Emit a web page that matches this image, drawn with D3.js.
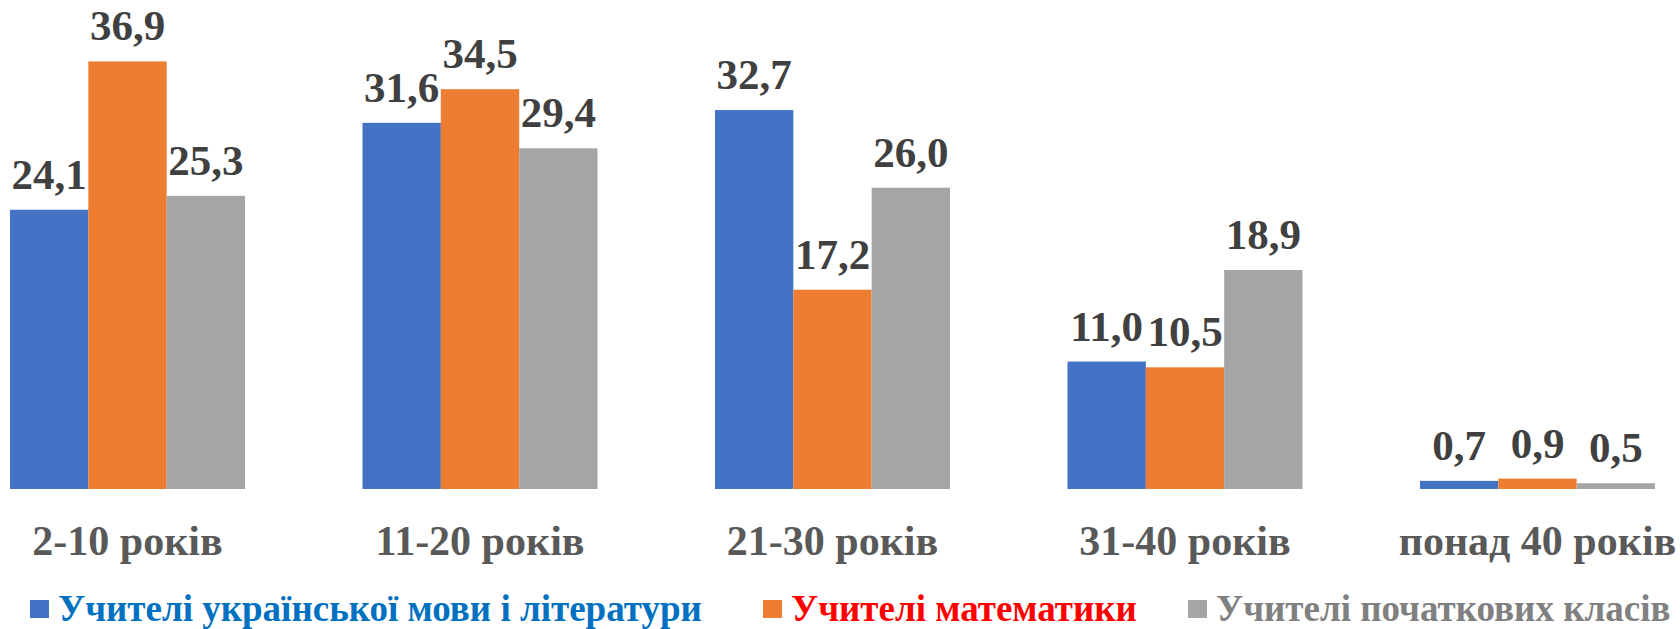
<!DOCTYPE html>
<html>
<head>
<meta charset="utf-8">
<script src="https://cdn.jsdelivr.net/npm/d3@7"></script>
<style>
  html, body { margin: 0; padding: 0; background: #fff; }
  svg { display: block; }
  text { font-family: "Liberation Serif", "Times New Roman", serif; font-weight: bold; }
</style>
</head>
<body>
<svg id="chart" width="1680" height="629"></svg>
<script>
const categories = ["2-10 років", "11-20 років", "21-30 років", "31-40 років", "понад 40 років"];
const seriesNames = ["Учителі української мови і літератури", "Учителі математики", "Учителі початкових класів"];
const ukrValues = [24.1, 31.6, 32.7, 11.0, 0.7];
const mathValues = [36.9, 34.5, 17.2, 10.5, 0.9];
const primaryValues = [25.3, 29.4, 26.0, 18.9, 0.5];

const barColors = ["#4472C4", "#ED7D31", "#A5A5A5"];
const legendColors = ["#0070C0", "#FF0000", "#808080"];

const series = [ukrValues, mathValues, primaryValues];

const svg = d3.select("#chart");
const baseY = 489;

// the plot is a bit wider than the picture, first/last gaps are cut off
const x = d3.scaleBand()
    .domain(categories)
    .range([-48.75, 1713.75])
    .paddingInner(1 / 3)
    .paddingOuter(1 / 6);

const xSub = d3.scaleBand()
    .domain(d3.range(series.length))
    .range([0, x.bandwidth()]);

const y = d3.scaleLinear()
    .domain([0, 42.2])
    .range([baseY, 0]);

const fmt = v => v.toFixed(1).replace(".", ",");

const groups = svg.selectAll("g.cat")
    .data(categories)
    .join("g")
    .attr("class", "cat")
    .attr("transform", d => `translate(${x(d)},0)`);

groups.selectAll("rect")
    .data((d, i) => series.map((s, k) => ({ k: k, v: s[i] })))
    .join("rect")
    .attr("x", d => xSub(d.k))
    .attr("width", xSub.bandwidth())
    .attr("y", d => y(d.v))
    .attr("height", d => baseY - y(d.v))
    .attr("fill", d => barColors[d.k]);

groups.selectAll("text.val")
    .data((d, i) => series.map((s, k) => ({ k: k, v: s[i] })))
    .join("text")
    .attr("class", "val")
    .attr("x", d => xSub(d.k) + xSub.bandwidth() / 2)
    .attr("y", d => y(d.v) - 21)
    .attr("text-anchor", "middle")
    .attr("font-size", 43)
    .attr("fill", "#404040")
    .text(d => fmt(d.v));

// category labels
svg.append("g")
    .selectAll("text")
    .data(categories)
    .join("text")
    .attr("x", d => x(d) + x.bandwidth() / 2)
    .attr("y", 555)
    .attr("text-anchor", "middle")
    .attr("font-size", 42)
    .attr("fill", "#595959")
    .text(d => d);

// legend
const legendX = [30, 763, 1188];
const legend = svg.append("g")
    .selectAll("g")
    .data(seriesNames)
    .join("g")
    .attr("transform", (d, i) => `translate(${legendX[i]},0)`);

legend.append("rect")
    .attr("x", 0)
    .attr("y", 600)
    .attr("width", 19)
    .attr("height", 18)
    .attr("fill", (d, i) => barColors[i]);

legend.append("text")
    .attr("x", 28)
    .attr("y", 621)
    .attr("font-size", 37)
    .attr("fill", (d, i) => legendColors[i])
    .text(d => d);
</script>
</body>
</html>
